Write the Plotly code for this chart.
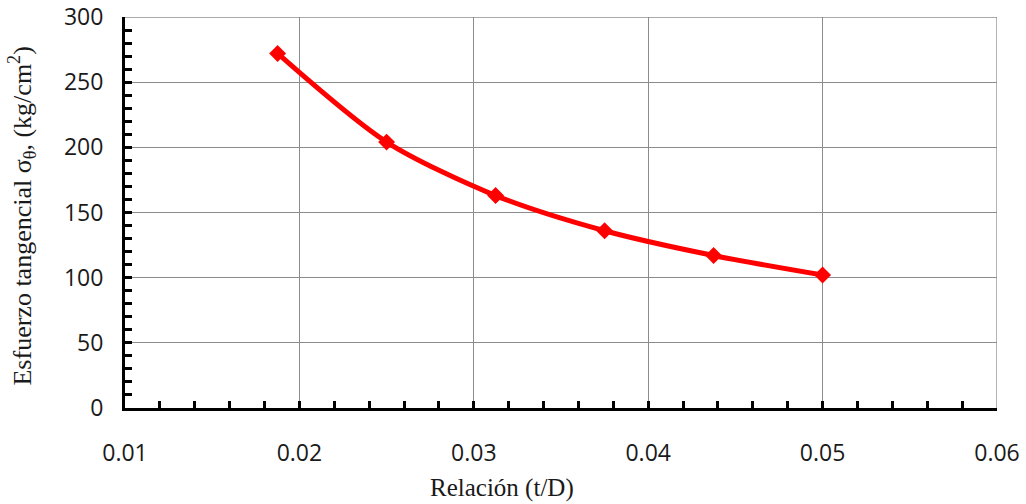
import plotly.graph_objects as go

# Relación espesor / diámetro (t/D) y esfuerzo tangencial resultante
relacion_tD = [0.01875, 0.025, 0.03125, 0.0375, 0.04375, 0.05]
esfuerzo = [272, 204, 163, 136, 117, 102]

x_ticks = [0.01, 0.02, 0.03, 0.04, 0.05, 0.06]
y_ticks = [0, 50, 100, 150, 200, 250, 300]

tick_font = dict(family="Open Sans", size=23, color="#1a1a1a")
title_font = dict(family="Liberation Serif", size=25, color="#1a1a1a")

fig = go.Figure()
fig.add_trace(go.Scatter(
    x=relacion_tD, y=esfuerzo,
    mode="lines+markers",
    line=dict(color="#ff0000", width=5, shape="spline", smoothing=0.8),
    marker=dict(symbol="diamond", size=13, color="#ff0000"),
    showlegend=False,
))

axis_common = dict(
    showline=True, linecolor="black", linewidth=3,
    showgrid=True, gridcolor="#8c8c8c", gridwidth=1.3,
    ticks="inside", ticklen=7, tickwidth=3, tickcolor="black",
    zeroline=False, tickfont=tick_font, automargin=False,
)

fig.update_xaxes(
    range=[0.01, 0.06], tickvals=x_ticks,
    ticktext=[f"{v:.2f}" for v in x_ticks],
    minor=dict(ticks="inside", dtick=0.002, ticklen=7, tickwidth=3,
               tickcolor="black", showgrid=False),
    ticklabelstandoff=22,
    **axis_common,
)
fig.update_yaxes(
    range=[0, 300], tickvals=y_ticks,
    minor=dict(ticks="inside", dtick=10, ticklen=7, tickwidth=3,
               tickcolor="black", showgrid=False),
    ticklabelstandoff=14,
    **axis_common,
)

# top and right grid borders of the plotting area
fig.add_shape(type="line", xref="paper", yref="y", x0=0, x1=1, y0=300, y1=300,
              line=dict(color="#8c8c8c", width=1.3), layer="below")
fig.add_shape(type="line", xref="x", yref="paper", x0=0.06, x1=0.06, y0=0, y1=1,
              line=dict(color="#8c8c8c", width=1.3), layer="below")

fig.add_annotation(
    text="Relación (t/D)", xref="paper", yref="paper",
    x=0.432, y=-0.205, xanchor="center", yanchor="middle",
    showarrow=False, font=title_font,
)
fig.add_annotation(
    text="Esfuerzo tangencial σ<sub>θ</sub>, (kg/cm<sup>2</sup>)",
    xref="paper", yref="paper", x=-0.118, y=0.49,
    xanchor="center", yanchor="middle", textangle=-90,
    showarrow=False, font=dict(family="Liberation Serif", size=26, color="#1a1a1a"),
)

fig.update_layout(
    width=1026, height=504,
    margin=dict(l=125, r=29, t=17, b=96),
    paper_bgcolor="white", plot_bgcolor="white",
)

fig.write_html("out.html")
